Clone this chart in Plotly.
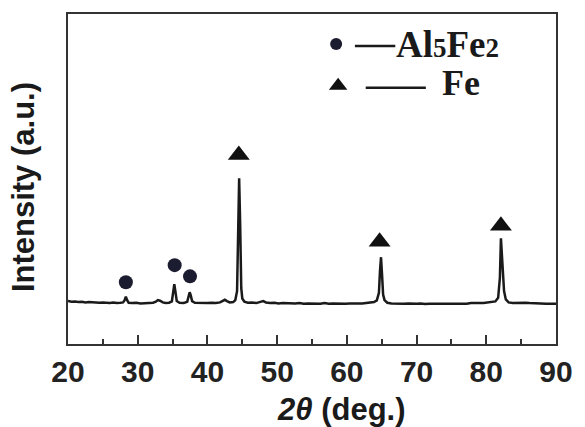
import plotly.graph_objects as go

# XRD pattern (2theta in degrees, intensity in arbitrary units)
two_theta = [20.0, 20.5, 21.0, 21.5, 22.0, 22.5, 23.0, 23.5, 24.0, 24.5, 25.0, 25.5, 26.0, 26.5, 27.0, 27.5,
             27.9, 28.1, 28.3, 28.5, 28.7, 29.2, 29.8, 30.4, 31.0, 31.6, 32.2, 32.6, 32.9, 33.2, 33.6, 34.0,
             34.5, 34.9, 35.1, 35.25, 35.4, 35.6, 36.0, 36.6, 37.1, 37.3, 37.45, 37.6, 37.8, 38.2, 38.8, 39.4,
             40.0, 40.6, 41.2, 41.8, 42.2, 42.5, 42.8, 43.2, 43.7, 44.0, 44.25, 44.4, 44.55, 44.7, 44.85, 45.0,
             45.3, 45.8, 46.4, 47.0, 47.6, 48.0, 48.4, 49.0, 49.6, 50.2, 50.8, 51.4, 52.0, 52.6, 53.2, 53.8,
             54.4, 55.0, 55.6, 56.2, 56.8, 57.4, 58.0, 58.6, 59.2, 59.8, 60.4, 61.0, 61.6, 62.2, 62.8, 63.4,
             63.9, 64.3, 64.6, 64.75, 64.9, 65.05, 65.2, 65.4, 65.8, 66.4, 67.0, 67.6, 68.2, 68.8, 69.4, 70.0,
             70.6, 71.2, 71.8, 72.4, 73.0, 73.6, 74.2, 74.8, 75.4, 76.0, 76.6, 77.2, 77.8, 78.4, 79.0, 79.6,
             80.2, 80.8, 81.3, 81.7, 81.95, 82.1, 82.25, 82.4, 82.55, 82.8, 83.2, 83.8, 84.4, 85.0, 85.6, 86.2,
             86.8, 87.4, 88.0, 88.6, 89.2, 90.0]
intensity = [13.0, 12.8, 12.9, 12.7, 12.8, 12.6, 12.7, 12.6, 12.7, 12.5, 12.6, 12.5, 12.4, 12.6, 12.4, 12.5,
             12.6, 13.2, 14.3, 13.2, 12.5, 12.4, 12.5, 12.3, 12.4, 12.3, 12.5, 12.8, 13.3, 13.1, 12.6, 12.4,
             12.5, 12.9, 15.5, 18.1, 16.0, 13.0, 12.5, 12.4, 12.8, 14.5, 15.7, 14.8, 13.0, 12.5, 12.4, 12.5,
             12.4, 12.5, 12.4, 12.6, 13.0, 13.4, 13.0, 12.6, 12.7, 13.3, 16.0, 35.0, 50.2, 36.0, 17.0, 13.8,
             12.8, 12.5, 12.6, 12.4, 12.7, 13.0, 12.6, 12.4, 12.5, 12.3, 12.4, 12.3, 12.4, 12.3, 12.4, 12.2,
             12.3, 12.2, 12.3, 12.2, 12.4, 12.2, 12.3, 12.2, 12.3, 12.2, 12.3, 12.2, 12.3, 12.3, 12.4, 12.5,
             12.7, 13.2, 15.5, 22.0, 26.3, 21.0, 15.0, 13.3, 12.5, 12.3, 12.2, 12.3, 12.2, 12.3, 12.2, 12.2,
             12.3, 12.1, 12.2, 12.2, 12.3, 12.1, 12.2, 12.2, 12.1, 12.2, 12.3, 12.2, 12.4, 12.3, 12.4, 12.4,
             12.5, 12.6, 12.9, 14.0, 20.0, 32.0, 27.0, 22.0, 16.0, 13.5, 12.6, 12.4, 12.5, 12.4, 12.5, 12.4,
             12.3, 12.2, 12.2, 12.2, 12.2, 12.2]

# Phase markers
al5fe2_x = [28.3, 35.3, 37.5]
al5fe2_y = [18.7, 23.9, 20.5]
fe_x = [44.5, 64.7, 82.1]
fe_y = [57.3, 31.0, 35.8]

x_ticks = [20, 30, 40, 50, 60, 70, 80, 90]

fig = go.Figure()
fig.add_trace(go.Scatter(x=two_theta, y=intensity, mode="lines",
                         line=dict(color="#1a1a1a", width=2.5), hoverinfo="skip"))
fig.add_trace(go.Scatter(x=al5fe2_x, y=al5fe2_y, mode="markers",
                         marker=dict(symbol="circle", size=14, color="#1c1c30",
                                     line=dict(width=0))))
fig.add_trace(go.Scatter(x=fe_x, y=fe_y, mode="markers",
                         marker=dict(symbol="triangle-up", size=19, color="#111111",
                                     line=dict(width=0))))

W, H = 585, 427
L, R, T, B = 68, 22, 13, 83
pw, ph = W - L - R, H - T - B


def px(xp):
    return (xp - L) / pw


def py(yp):
    return (H - B - yp) / ph


# legend (drawn in the plot area)
fig.add_trace(go.Scatter(x=[px(340)], y=[py(43)], xaxis="x2", yaxis="y2", mode="markers",
                         marker=dict(symbol="circle", size=12, color="#1c1c30")))
fig.add_trace(go.Scatter(x=[px(342)], y=[py(85)], xaxis="x2", yaxis="y2", mode="markers",
                         marker=dict(symbol="triangle-up", size=16, color="#111111")))
fig.add_shape(type="line", xref="paper", yref="paper", x0=px(359), x1=px(400), y0=py(45), y1=py(45),
              line=dict(color="#1a1a1a", width=2.5))
fig.add_shape(type="line", xref="paper", yref="paper", x0=px(370), x1=px(431), y0=py(87), y1=py(87),
              line=dict(color="#1a1a1a", width=2.5))

serif = "Liberation Serif"
fig.add_annotation(xref="paper", yref="paper", x=px(399), y=py(44), xanchor="left", yanchor="middle",
                   text="Al<span style='font-size:27px'>5</span>Fe<span style='font-size:27px'>2</span>",
                   showarrow=False,
                   font=dict(family=serif, size=37, color="#1a1a1a", weight="bold"))
fig.add_annotation(xref="paper", yref="paper", x=px(445), y=py(82), xanchor="left", yanchor="middle",
                   text="Fe", showarrow=False,
                   font=dict(family=serif, size=36, color="#1a1a1a", weight="bold"))

sans = "Liberation Sans"
fig.add_annotation(xref="paper", yref="paper", x=px(23), y=py(187), xanchor="center", yanchor="middle",
                   text="Intensity (a.u.)", textangle=-90, showarrow=False,
                   font=dict(family=sans, size=31, color="#1a1a1a", weight="bold"))
fig.add_annotation(xref="paper", yref="paper", x=px(345), y=py(410), xanchor="center", yanchor="middle",
                   text="<i>2θ</i> (deg.)", showarrow=False,
                   font=dict(family=sans, size=31, color="#1a1a1a", weight="bold"))

fig.update_layout(
    width=W, height=H,
    margin=dict(l=L, r=R, t=T, b=B),
    paper_bgcolor="white", plot_bgcolor="white",
    showlegend=False,
    xaxis=dict(range=[20, 90], tickvals=x_ticks, ticks="inside", ticklen=9, tickwidth=2,
               tickcolor="#333333", showline=True, linecolor="#333333", linewidth=2, mirror=True,
               showgrid=False, zeroline=False,
               tickfont=dict(family=sans, size=30, color="#222222", weight="bold"),
               minor=dict(dtick=5, ticks="inside", ticklen=5, tickwidth=2, tickcolor="#333333",
                          showgrid=False)),
    yaxis=dict(range=[0, 100], showticklabels=False, ticks="", showline=True, linecolor="#333333",
               linewidth=2, mirror=True, showgrid=False, zeroline=False),
    xaxis2=dict(range=[0, 1], overlaying="x", visible=False, domain=[0, 1]),
    yaxis2=dict(range=[0, 1], overlaying="y", visible=False, domain=[0, 1]),
)

fig.write_html("out.html")
